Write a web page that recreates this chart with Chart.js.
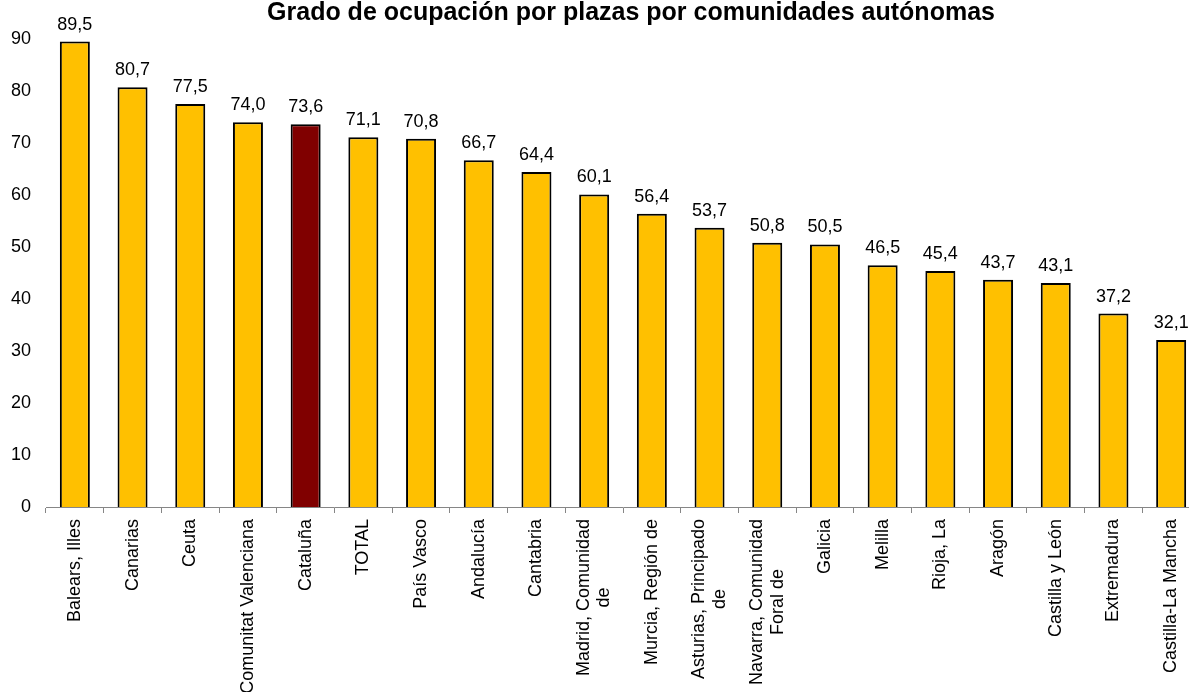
<!DOCTYPE html>
<html>
<head>
<meta charset="utf-8">
<script src="https://cdn.jsdelivr.net/npm/chart.js@4/dist/chart.umd.min.js"></script>
<style>
  html, body { margin: 0; padding: 0; background: #fff; overflow: hidden; width: 1189px; height: 692px; }
  canvas { display: block; }
</style>
</head>
<body>
<canvas id="c" width="1262" height="692"></canvas>
<script>
const titleText = 'Grado de ocupación por plazas por comunidades autónomas';
const categories = [
  ['Balears, Illes'], ['Canarias'], ['Ceuta'], ['Comunitat Valenciana'], ['Cataluña'],
  ['TOTAL'], ['País Vasco'], ['Andalucía'], ['Cantabria'], ['Madrid, Comunidad', 'de'],
  ['Murcia, Región de'], ['Asturias, Principado', 'de'], ['Navarra, Comunidad', 'Foral de'],
  ['Galicia'], ['Melilla'], ['Rioja, La'], ['Aragón'], ['Castilla y León'],
  ['Extremadura'], ['Castilla-La Mancha']
];
const values = [89.5, 80.7, 77.5, 74.0, 73.6, 71.1, 70.8, 66.7, 64.4, 60.1,
                56.4, 53.7, 50.8, 50.5, 46.5, 45.4, 43.7, 43.1, 37.2, 32.1];
const highlighted = ['Cataluña'];
const yTicks = [0, 10, 20, 30, 40, 50, 60, 70, 80, 90];

const FONT = "'Liberation Sans', Arial, sans-serif";
const barColors = categories.map(c => highlighted.includes(c.join(' ')) ? '#800000' : '#FFC000');

const labelsPlugin = {
  id: 'customLabels',
  afterDatasetsDraw(chart) {
    const ctx = chart.ctx;
    const meta = chart.getDatasetMeta(0);
    ctx.save();
    // title
    ctx.font = 'bold 25px ' + FONT;
    ctx.fillStyle = '#000';
    ctx.textAlign = 'center';
    ctx.textBaseline = 'middle';
    ctx.fillText(titleText, 631, 13);

    ctx.font = '18px ' + FONT;
    ctx.textAlign = 'center';
    ctx.textBaseline = 'alphabetic';
    meta.data.forEach((bar, i) => {
      const txt = values[i].toFixed(1).replace('.', ',');
      ctx.fillText(txt, bar.x, bar.y - 12);
    });
    // rotated category labels
    const xs = chart.scales.x;
    const top = chart.chartArea.bottom + 12;
    const lh = 20.7;
    categories.forEach((lines, i) => {
      const x = xs.getPixelForValue(i);
      let maxW = 0;
      lines.forEach(l => { maxW = Math.max(maxW, ctx.measureText(l).width); });
      ctx.save();
      ctx.translate(x, top + maxW / 2);
      ctx.rotate(-Math.PI / 2);
      ctx.textAlign = 'center';
      ctx.textBaseline = 'middle';
      const n = lines.length;
      lines.forEach((l, j) => {
        ctx.fillText(l, 0, (j - (n - 1) / 2) * lh);
      });
      ctx.restore();
    });
    ctx.restore();
  }
};

new Chart(document.getElementById('c'), {
  type: 'bar',
  data: {
    labels: categories.map(c => c.join(' ')),
    datasets: [{
      data: values,
      backgroundColor: barColors,
      borderColor: '#000',
      borderWidth: 2,
      barPercentage: 0.52,
      categoryPercentage: 1.0
    }]
  },
  options: {
    responsive: false,
    animation: false,
    layout: { padding: { left: 11, right: 62, top: 39, bottom: 179 } },
    plugins: {
      legend: { display: false },
      tooltip: { enabled: false },
      title: { display: false }
    },
    scales: {
      x: {
        offset: true,
        grid: { display: true, drawOnChartArea: false, drawTicks: true, tickLength: 6, color: '#868686', offset: true },
        border: { display: true, color: '#868686', width: 1 },
        ticks: { display: false }
      },
      y: {
        min: 0, max: 90,
        afterBuildTicks(scale) { scale.ticks = yTicks.map(v => ({ value: v })); },
        afterFit(scale) { scale.width = 35; },
        grid: { display: false, drawTicks: false },
        border: { display: false },
        ticks: { color: '#000', font: { family: FONT, size: 18 }, padding: 15 }
      }
    }
  },
  plugins: [labelsPlugin]
});
</script>
</body>
</html>
